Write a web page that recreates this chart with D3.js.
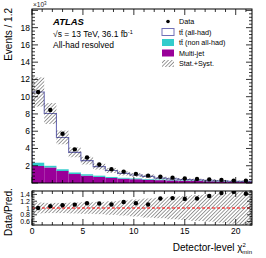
<!DOCTYPE html>
<html lang="en">
<head>
  <meta charset="UTF-8">
  <title>Detector-level chi2 min</title>
  <script src="https://d3js.org/d3.v7.min.js"></script>
  <style>
    body { margin: 0; background: #fff; }
    svg { display: block; font-family: "Liberation Sans", Arial, sans-serif; }
    .frame { fill: none; stroke: #000; stroke-width: 1px; }
  </style>
</head>
<body>
  <svg></svg>
  <script>
    // bin edges in chi2_min, width 1.2
    const binEdges = d3.range(0, 21.61, 1.2).map(v => +v.toFixed(1));
    // values in units of 10^3 events
    const dataVals  = [10.55, 8.45, 5.70, 3.90, 2.95, 2.15, 1.60, 1.32, 1.06, 0.85, 0.73, 0.62, 0.52, 0.46, 0.42, 0.36, 0.28, 0.27];
    const multiJet  = [1.97, 1.80, 1.39, 1.04, 0.85, 0.70, 0.58, 0.50, 0.44, 0.38, 0.33, 0.30, 0.26, 0.23, 0.20, 0.16, 0.13, 0.12];
    const ttNonAll  = [0.38, 0.19, 0.20, 0.18, 0.16, 0.15, 0.12, 0.10, 0.09, 0.08, 0.07, 0.06, 0.05, 0.05, 0.04, 0.04, 0.03, 0.03];
    const ttAllHad  = [8.20, 6.06, 3.69, 2.33, 1.58, 1.05, 0.75, 0.52, 0.40, 0.31, 0.17, 0.12, 0.10, 0.08, 0.07, 0.05, 0.03, 0.04];
    const relUnc    = [0.16, 0.15, 0.15, 0.16, 0.17, 0.18, 0.20, 0.22, 0.25, 0.28, 0.30, 0.33, 0.35, 0.38, 0.40, 0.43, 0.46, 0.50];
    const xTicks = [0, 5, 10, 15, 20];
    const yTicks = [2, 4, 6, 8, 10, 12, 14, 16, 18];
    const rTicks = [0.6, 0.8, 1, 1.2, 1.4];

    const width = 266, height = 258;
    const left = 32, right = 252;
    const mainTop = 9, mainBot = 183;
    const ratTop = 191, ratBot = 225;

    const svg = d3.select("svg").attr("width", width).attr("height", height);

    const defs = svg.append("defs");
    const pat = defs.append("pattern")
        .attr("id", "hatch")
        .attr("patternUnits", "userSpaceOnUse")
        .attr("width", 2.6).attr("height", 2.6)
        .attr("patternTransform", "rotate(45)");
    pat.append("line")
        .attr("x1", 0).attr("y1", 0).attr("x2", 0).attr("y2", 2.6)
        .attr("stroke", "#222").attr("stroke-width", 0.9);

    defs.append("clipPath").attr("id", "clipMain")
      .append("rect").attr("x", left).attr("y", mainTop).attr("width", right - left).attr("height", mainBot - mainTop);
    defs.append("clipPath").attr("id", "clipRat")
      .append("rect").attr("x", left).attr("y", ratTop).attr("width", right - left).attr("height", ratBot - ratTop);

    const x = d3.scaleLinear().domain([0, 21.6]).range([left, right]);
    const y = d3.scaleLinear().domain([0, 20.16]).range([mainBot, mainTop]);
    const yr = d3.scaleLinear().domain([0.5, 1.5]).range([ratBot, ratTop]);

    const bins = dataVals.map((d, i) => {
      const mj = multiJet[i], na = ttNonAll[i], ah = ttAllHad[i];
      const tot = mj + na + ah;
      return { x0: binEdges[i], x1: binEdges[i + 1], xc: (binEdges[i] + binEdges[i + 1]) / 2,
               data: d, mj: mj, na: na, ah: ah, tot: tot, unc: relUnc[i] };
    });

    // ---- main panel ----
    const gm = svg.append("g").attr("clip-path", "url(#clipMain)");

    // stacked fills
    gm.selectAll("rect.mj").data(bins).enter().append("rect")
        .attr("x", d => x(d.x0)).attr("width", d => x(d.x1) - x(d.x0))
        .attr("y", d => y(d.mj)).attr("height", d => y(0) - y(d.mj))
        .attr("fill", "#990099");
    gm.selectAll("rect.na").data(bins).enter().append("rect")
        .attr("x", d => x(d.x0)).attr("width", d => x(d.x1) - x(d.x0))
        .attr("y", d => y(d.mj + d.na)).attr("height", d => y(d.mj) - y(d.mj + d.na))
        .attr("fill", "#33cccc");

    // total step line (tt all-had outline)
    const stepPts = [];
    bins.forEach(d => { stepPts.push([x(d.x0), y(d.tot)]); stepPts.push([x(d.x1), y(d.tot)]); });
    stepPts.unshift([x(0), y(0)]);
    gm.append("path")
        .attr("d", d3.line()(stepPts))
        .attr("fill", "none").attr("stroke", "#7070b8").attr("stroke-width", 1.1);

    // uncertainty hatch
    gm.selectAll("rect.unc").data(bins).enter().append("rect")
        .attr("x", d => x(d.x0)).attr("width", d => x(d.x1) - x(d.x0))
        .attr("y", d => y(d.tot * (1 + d.unc)))
        .attr("height", d => y(d.tot * (1 - d.unc)) - y(d.tot * (1 + d.unc)))
        .attr("fill", "url(#hatch)");

    // data points
    gm.selectAll("circle.data").data(bins).enter().append("circle")
        .attr("cx", d => x(d.xc)).attr("cy", d => y(d.data)).attr("r", 2.2)
        .attr("fill", "#000");

    // ---- ratio panel ----
    const gr = svg.append("g").attr("clip-path", "url(#clipRat)");
    gr.selectAll("rect.runc").data(bins).enter().append("rect")
        .attr("x", d => x(d.x0)).attr("width", d => x(d.x1) - x(d.x0))
        .attr("y", d => yr(1 + d.unc)).attr("height", d => yr(1 - d.unc) - yr(1 + d.unc))
        .attr("fill", "url(#hatch)");
    gr.append("line")
        .attr("x1", left).attr("x2", right).attr("y1", yr(1)).attr("y2", yr(1))
        .attr("stroke", "#ff0000").attr("stroke-width", 1).attr("stroke-dasharray", "3,2");
    gr.selectAll("circle.r").data(bins).enter().append("circle")
        .attr("cx", d => x(d.xc)).attr("cy", d => yr(d.data / d.tot)).attr("r", 2.2)
        .attr("fill", "#000");

    // ---- axes (ticks inward, on all sides) ----
    function ticksX(yPos, dir, showLabels) {
      const g = svg.append("g");
      d3.range(0, 21.6, 1).forEach(v => {
        const major = v % 5 === 0;
        const len = major ? 6 : 3;
        g.append("line").attr("x1", x(v)).attr("x2", x(v))
          .attr("y1", yPos).attr("y2", yPos + dir * len)
          .attr("stroke", "#000").attr("stroke-width", 0.8);
      });
      if (showLabels) {
        g.selectAll("text").data(xTicks).enter().append("text")
          .attr("x", d => x(d)).attr("y", ratBot + 9)
          .attr("text-anchor", "middle").attr("font-size", 8.5).text(d => d);
      }
    }
    ticksX(mainBot, -1, false);
    ticksX(mainTop, 1, false);
    ticksX(ratBot, -1, true);
    ticksX(ratTop, 1, false);

    function ticksY(scale, lo, hi, step, majorEvery, majLen, minLen) {
      const g = svg.append("g");
      const n = Math.round((hi - lo) / step);
      for (let k = 0; k <= n; k++) {
        const v = lo + k * step;
        const major = Math.abs(v / majorEvery - Math.round(v / majorEvery)) < 1e-6;
        const len = major ? majLen : minLen;
        [[left, 1], [right, -1]].forEach(([xp, dir]) => {
          g.append("line").attr("x1", xp).attr("x2", xp + dir * len)
            .attr("y1", scale(v)).attr("y2", scale(v))
            .attr("stroke", "#000").attr("stroke-width", 0.8);
        });
      }
      return g;
    }
    ticksY(y, 0, 20, 0.4, 2, 6, 3);
    ticksY(yr, 0.5, 1.5, 0.05, 0.2, 5, 2.5);

    svg.append("g").selectAll("text").data(yTicks).enter().append("text")
        .attr("x", left - 2).attr("y", d => y(d) + 3)
        .attr("text-anchor", "end").attr("font-size", 8.5).text(d => d);
    svg.append("g").selectAll("text").data(rTicks).enter().append("text")
        .attr("x", left - 2).attr("y", d => yr(d) + 2.5)
        .attr("text-anchor", "end").attr("font-size", 7).text(d => d);

    // frames
    svg.append("rect").attr("class", "frame")
        .attr("x", left).attr("y", mainTop).attr("width", right - left).attr("height", mainBot - mainTop);
    svg.append("rect").attr("class", "frame")
        .attr("x", left).attr("y", ratTop).attr("width", right - left).attr("height", ratBot - ratTop);

    // x10^3
    const mult = svg.append("text").attr("x", 33).attr("y", 7).attr("font-size", 6.5).attr("fill", "#222");
    mult.append("tspan").text("×10");
    mult.append("tspan").attr("dy", -2.5).attr("font-size", 4.5).text("3");

    // axis titles
    svg.append("text")
        .attr("transform", `translate(12,8) rotate(-90)`)
        .attr("text-anchor", "end").attr("font-size", 10).text("Events / 1.2");
    svg.append("text")
        .attr("transform", `translate(12,212) rotate(-90)`)
        .attr("text-anchor", "middle").attr("font-size", 10).text("Data/Pred.");

    const xt = svg.append("text").attr("x", right).attr("y", 251)
        .attr("text-anchor", "end").attr("font-size", 10);
    xt.append("tspan").text("Detector-level χ");
    xt.append("tspan").attr("dy", -4).attr("font-size", 6).text("2");
    xt.append("tspan").attr("dx", -3.5).attr("dy", 7).attr("font-size", 6).text("min");

    // ATLAS labels
    svg.append("text").attr("x", 53).attr("y", 25)
        .attr("font-size", 9.5).attr("font-weight", "bold").attr("font-style", "italic").text("ATLAS");
    const sq = svg.append("text").attr("x", 53).attr("y", 36.5).attr("font-size", 8.5);
    sq.append("tspan").text("√s = 13 TeV, 36.1 fb");
    sq.append("tspan").attr("dy", -3).attr("font-size", 5.5).text("-1");
    svg.append("text").attr("x", 53).attr("y", 48).attr("font-size", 8.5).text("All-had resolved");

    // legend
    const legY = [24, 34.5, 45, 55.5, 66];
    const lg = svg.append("g").attr("font-size", 7.2);
    const boxX = 162, boxW = 12, boxH = 7;
    lg.append("circle").attr("cx", boxX + boxW / 2).attr("cy", legY[0] - 2.5).attr("r", 1.8).attr("fill", "#000");
    lg.append("rect").attr("x", boxX).attr("y", legY[1] - 6).attr("width", boxW).attr("height", boxH)
      .attr("fill", "#fff").attr("stroke", "#7070b8").attr("stroke-width", 1);
    lg.append("rect").attr("x", boxX).attr("y", legY[2] - 6).attr("width", boxW).attr("height", boxH).attr("fill", "#33cccc");
    lg.append("rect").attr("x", boxX).attr("y", legY[3] - 6).attr("width", boxW).attr("height", boxH).attr("fill", "#990099");
    lg.append("rect").attr("x", boxX).attr("y", legY[4] - 6).attr("width", boxW).attr("height", boxH).attr("fill", "url(#hatch)");
    const legTxt = ["Data", "tt̄ (all-had)", "tt̄ (non all-had)", "Multi-jet", "Stat.+Syst."];
    lg.selectAll("text").data(legTxt).enter().append("text")
      .attr("x", 179).attr("y", (d, i) => legY[i]).text(d => d);
  </script>
</body>
</html>
